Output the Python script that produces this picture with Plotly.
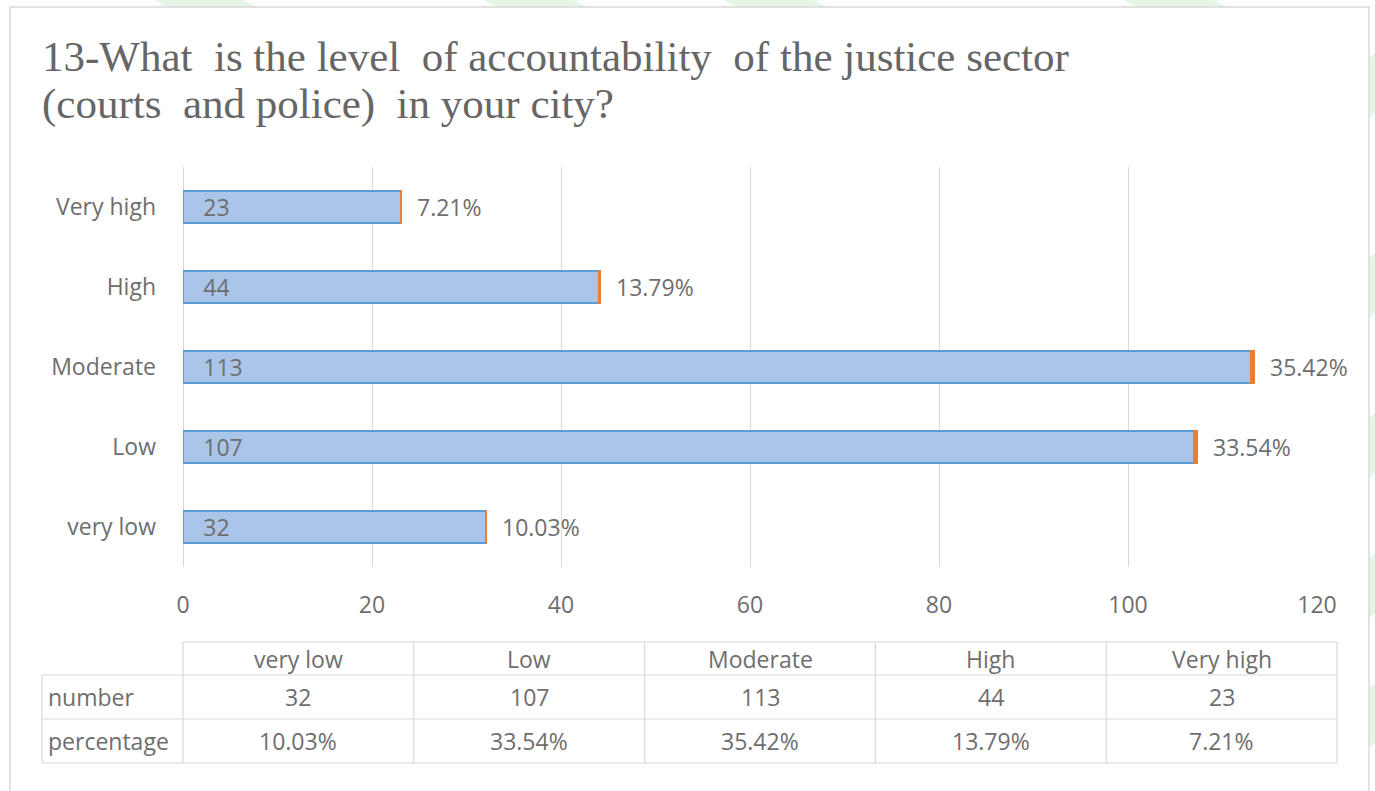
import plotly.graph_objects as go

# Survey results: level of accountability of the justice sector
categories = ["very low", "Low", "Moderate", "High", "Very high"]
numbers = [32, 107, 113, 44, 23]
percentages = [0.1003, 0.3354, 0.3542, 0.1379, 0.0721]
x_ticks = [0, 20, 40, 60, 80, 100, 120]
row_labels = ["number", "percentage"]
title_lines = ["13-What  is the level  of accountability  of the justice sector",
               "(courts  and police)  in your city?"]

W, H = 1375, 791
PLOT_L, PLOT_R = 183, 1317   # plot area, pixels
PLOT_T, PLOT_B = 167, 567

TEXT = "#6e6e6e"
TITLE = "#666666"
GRID = "#d9d9d9"
BODY_FONT = "Open Sans"
FS = 23


def px_x(p):
    """Pixel column -> paper x."""
    return (p - PLOT_L) / (PLOT_R - PLOT_L)


def px_y(p):
    """Pixel row -> paper y."""
    return (PLOT_B - p) / (PLOT_B - PLOT_T)


fig = go.Figure()

fig.add_trace(go.Bar(
    y=categories, x=numbers, orientation="h", name="number",
    marker=dict(color="#aac5e8", line=dict(color="#5b9bd5", width=1.5)),
    texttemplate="\u2002\u2005%{x}", textposition="inside", insidetextanchor="start",
    textangle=0, constraintext="none",
    insidetextfont=dict(family=BODY_FONT, size=FS, color=TEXT),
    cliponaxis=False,
))
fig.add_trace(go.Bar(
    y=categories, x=percentages, orientation="h", name="percentage",
    marker=dict(color="#ed7d31", line=dict(color="#ed7d31", width=1.5)),
    cliponaxis=False,
))

annotations = []
# percentage labels at the end of each stacked bar
for cat, n, p in zip(categories, numbers, percentages):
    annotations.append(dict(
        x=n + p, y=cat, xref="x", yref="y", text=f"{p:.2%}",
        showarrow=False, xanchor="left", yanchor="middle", xshift=14,
        font=dict(family=BODY_FONT, size=FS, color=TEXT),
    ))

# two-line title
for top, line in zip([31, 78], title_lines):
    annotations.append(dict(
        x=px_x(40), y=px_y(top), xref="paper", yref="paper",
        xanchor="left", yanchor="top", align="left", showarrow=False,
        text=line, font=dict(family="Liberation Serif", size=43, color=TITLE),
    ))

shapes = []
# faint green stripes around the chart frame
stripe = "rgba(200,232,200,0.45)"
for x0 in [150, 480, 720, 1120]:
    shapes.append(dict(type="path", xref="paper", yref="paper", layer="below",
                       path=f"M {px_x(x0)} {px_y(-2)} L {px_x(x0 + 90)} {px_y(-2)} "
                            f"L {px_x(x0 + 110)} {px_y(9)} L {px_x(x0 + 20)} {px_y(9)} Z",
                       fillcolor=stripe, line=dict(width=0)))
for y0 in [60, 260, 420, 560, 690]:
    shapes.append(dict(type="path", xref="paper", yref="paper", layer="below",
                       path=f"M {px_x(1366)} {px_y(y0)} L {px_x(1380)} {px_y(y0 - 10)} "
                            f"L {px_x(1380)} {px_y(y0 + 50)} L {px_x(1366)} {px_y(y0 + 60)} Z",
                       fillcolor=stripe, line=dict(width=0)))
# chart frame
shapes.append(dict(type="rect", xref="paper", yref="paper", layer="below",
                   x0=px_x(10), x1=px_x(1369), y0=px_y(800), y1=px_y(7),
                   fillcolor="white", line=dict(color=GRID, width=1.5)))

# data table below the axis
TBL_L, TBL_R = 42, 1337
COL0 = 183
rows_px = [642, 675, 719, 763]
n_cols = len(categories)
col_w = (TBL_R - COL0) / n_cols
col_edges = [COL0 + i * col_w for i in range(n_cols + 1)]


def hline(y, x0, x1):
    shapes.append(dict(type="line", xref="paper", yref="paper",
                       x0=px_x(x0), x1=px_x(x1), y0=px_y(y), y1=px_y(y),
                       line=dict(color=GRID, width=1.2)))


def vline(x, y0, y1):
    shapes.append(dict(type="line", xref="paper", yref="paper",
                       x0=px_x(x), x1=px_x(x), y0=px_y(y0), y1=px_y(y1),
                       line=dict(color=GRID, width=1.2)))


hline(rows_px[0], COL0, TBL_R)
for r in rows_px[1:]:
    hline(r, TBL_L, TBL_R)
vline(TBL_L, rows_px[1], rows_px[3])
for c in col_edges:
    vline(c, rows_px[0], rows_px[3])

table_rows = [[str(v) for v in numbers], [f"{p:.2%}" for p in percentages]]
cell_font = dict(family=BODY_FONT, size=FS, color=TEXT)
for i, cat in enumerate(categories):
    cx = (col_edges[i] + col_edges[i + 1]) / 2
    annotations.append(dict(x=px_x(cx), y=px_y((rows_px[0] + rows_px[1]) / 2),
                            xref="paper", yref="paper", text=cat, showarrow=False,
                            xanchor="center", yanchor="middle", font=cell_font))
    for r, row in enumerate(table_rows):
        annotations.append(dict(x=px_x(cx), y=px_y((rows_px[r + 1] + rows_px[r + 2]) / 2),
                                xref="paper", yref="paper", text=row[i], showarrow=False,
                                xanchor="center", yanchor="middle", font=cell_font))
for r, lab in enumerate(row_labels):
    annotations.append(dict(x=px_x(TBL_L + 4), y=px_y((rows_px[r + 1] + rows_px[r + 2]) / 2),
                            xref="paper", yref="paper", text=lab, showarrow=False,
                            xanchor="left", yanchor="middle", font=cell_font))

fig.update_layout(
    width=W, height=H,
    margin=dict(l=PLOT_L, r=W - PLOT_R, t=PLOT_T, b=H - PLOT_B, pad=0),
    paper_bgcolor="white", plot_bgcolor="rgba(0,0,0,0)",
    barmode="stack", bargap=0.6, showlegend=False,
    font=dict(family=BODY_FONT, size=FS, color=TEXT),
    xaxis=dict(range=[0, 120], tickvals=x_ticks, showgrid=True, gridcolor=GRID,
               gridwidth=1.2, zeroline=True, zerolinecolor=GRID, zerolinewidth=1.2,
               showline=False, ticks="", ticklabelstandoff=22,
               tickfont=dict(family=BODY_FONT, size=FS, color=TEXT), fixedrange=True),
    yaxis=dict(categoryorder="array", categoryarray=categories, showgrid=False,
               zeroline=False, showline=False, ticks="", ticklabelstandoff=26,
               tickfont=dict(family=BODY_FONT, size=FS, color=TEXT), fixedrange=True),
    annotations=annotations, shapes=shapes,
)

fig.write_html("out.html")
